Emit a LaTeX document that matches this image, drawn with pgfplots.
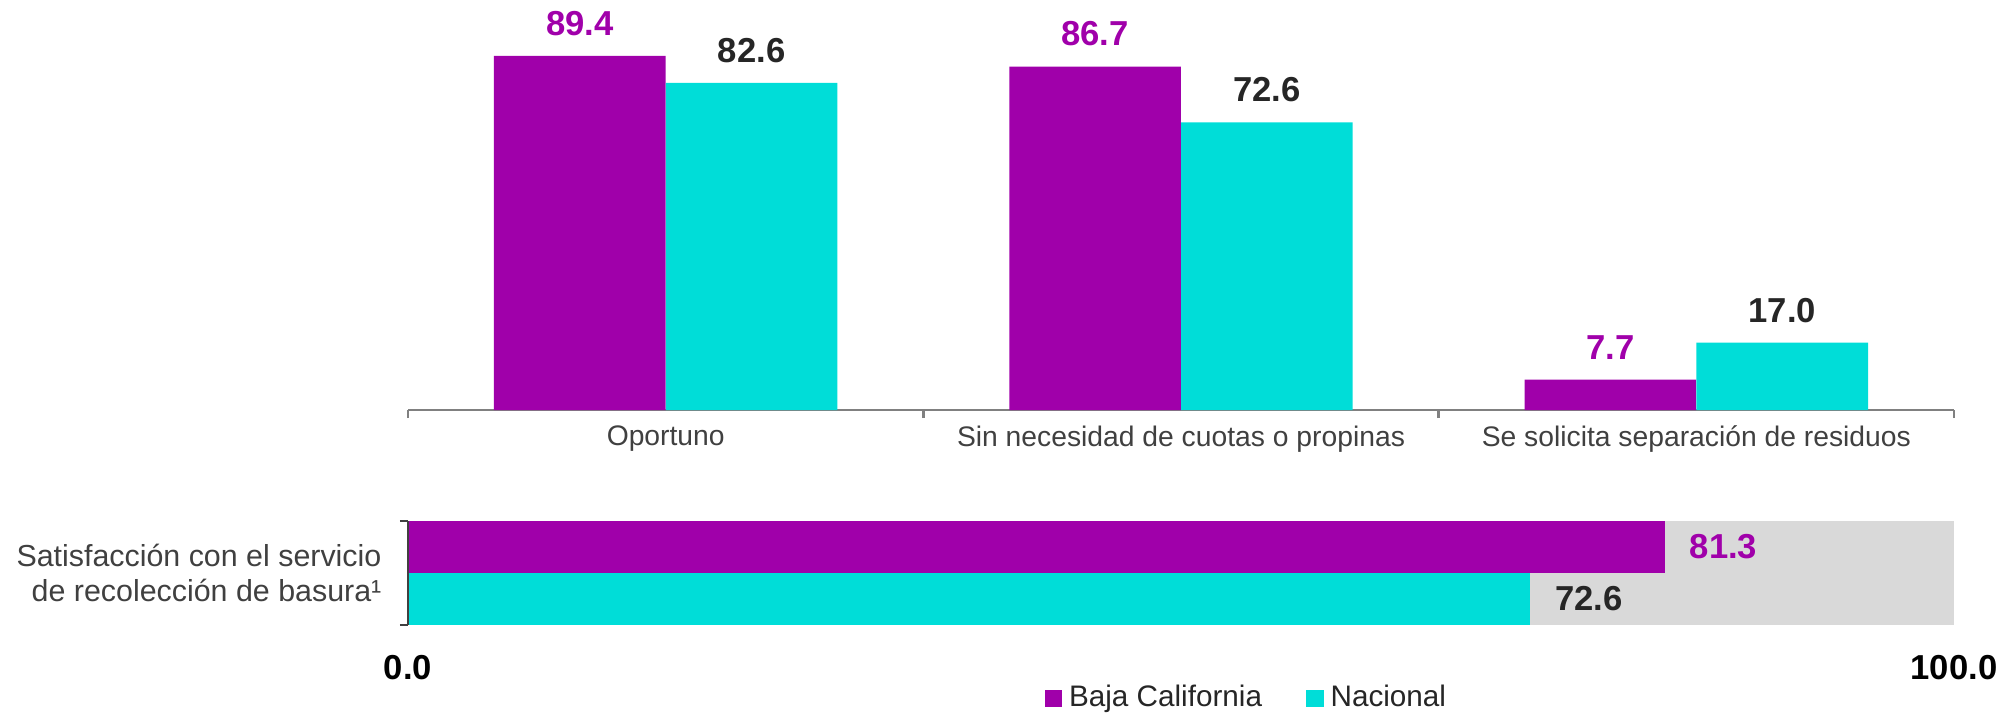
\documentclass[border=0pt]{standalone}
\usepackage{fontspec}
\setmainfont{Liberation Sans}
\usepackage{pgfplots}
\pgfplotsset{compat=1.18}

\definecolor{bcpurple}{HTML}{A000AA}
\definecolor{nacyan}{HTML}{00DDD8}
\definecolor{bggray}{HTML}{D9D9D9}
\definecolor{txtgray}{HTML}{404040}
\definecolor{numdark}{HTML}{262626}
\definecolor{axgray}{HTML}{808080}

\newcommand{\numstyle}{\bfseries\fontsize{9.8}{12}\selectfont}

\begin{document}
\begin{tikzpicture}
\path[use as bounding box] (0,0) rectangle (20cm,-7.111cm);
% upper panel: grouped bars
\begin{axis}[
  at={(4.058cm,-4.078cm)}, anchor=south west,
  scale only axis, width=15.375cm, height=3.94cm,
  ybar,
  xmin=-0.5, xmax=2.5, ymin=0, ymax=100,
  axis x line*=bottom, hide y axis,
  x axis line style={-, draw=axgray, line width=0.7pt},
  xtick={0,1,2},
  xticklabels={Oportuno, Sin necesidad de cuotas o propinas, Se solicita separación de residuos},
  xticklabel style={font=\fontsize{8}{10}\selectfont, text=txtgray, yshift=-1pt},
  major tick length=0pt,
  minor xtick={-0.5,0.5,1.5,2.5},
  minor tick length=0.08cm,
  tick align=outside,
  minor x tick style={draw=axgray, line width=0.7pt},
  clip=false,
  /pgf/number format/assume math mode=true,
  nodes near coords={\pgfmathprintnumber[fixed,fixed zerofill,precision=1]{\pgfplotspointmeta}},
  every node near coord/.append style={font=\numstyle, yshift=2.2pt},
]
\addplot[fill=bcpurple, draw=none, bar width=0.333, bar shift=-0.1667,
  every node near coord/.append style={text=bcpurple}]
  coordinates {(0,89.4) (1,86.7) (2,7.7)};
\addplot[fill=nacyan, draw=none, bar width=0.333, bar shift=0.1667,
  every node near coord/.append style={text=numdark}]
  coordinates {(0,82.6) (1,72.6) (2,17.0)};
\end{axis}

% lower panel: satisfaction bar
\begin{axis}[
  at={(4.058cm,-6.216cm)}, anchor=south west,
  scale only axis, width=15.375cm, height=1.034cm,
  xbar,
  xmin=0, xmax=100, ymin=-0.5, ymax=0.5,
  axis on top,
  axis x line*=bottom, axis y line*=left,
  x axis line style={draw=none},
  y axis line style={-, draw=black!75, line width=0.7pt},
  xtick={0,100}, xticklabels={0.0,100.0},
  xticklabel style={font=\numstyle, text=black, yshift=-5pt},
  ytick={0},
  yticklabels={{Satisfacción con el servicio\\de recolección de basura¹}},
  yticklabel style={align=right, font=\fontsize{8.6}{9.9}\selectfont, text=txtgray, xshift=-4pt},
  major tick length=0pt,
  minor ytick={-0.5,0.5},
  minor tick length=0.08cm,
  tick align=outside,
  minor y tick style={draw=black!75, line width=0.7pt},
  clip=false,
  /pgf/number format/assume math mode=true,
  legend style={at={(axis description cs:0.544,-0.71)}, anchor=center,
    draw=none, fill=none, font=\fontsize{8.4}{10}\selectfont, text=numdark,
    legend columns=-1,
    /tikz/every even column/.append style={column sep=0.37cm}},
  legend image code/.code={\fill[#1] (0cm,-0.085cm) rectangle (0.17cm,0.085cm);},
]
\addplot[fill=bggray, draw=none, bar width=1, bar shift=0, forget plot]
  coordinates {(100,0)};
\addplot[fill=bcpurple, draw=none, bar width=0.5, bar shift=0.25,
  nodes near coords={\pgfmathprintnumber[fixed,fixed zerofill,precision=1]{\pgfplotspointmeta}},
  every node near coord/.append style={font=\numstyle, text=bcpurple, xshift=3.5pt}]
  coordinates {(81.3,0)};
\addlegendentry{Baja California}
\addplot[fill=nacyan, draw=none, bar width=0.5, bar shift=-0.25,
  nodes near coords={\pgfmathprintnumber[fixed,fixed zerofill,precision=1]{\pgfplotspointmeta}},
  every node near coord/.append style={font=\numstyle, text=numdark, xshift=3.5pt}]
  coordinates {(72.6,0)};
\addlegendentry{Nacional}
\end{axis}
\end{tikzpicture}
\end{document}
